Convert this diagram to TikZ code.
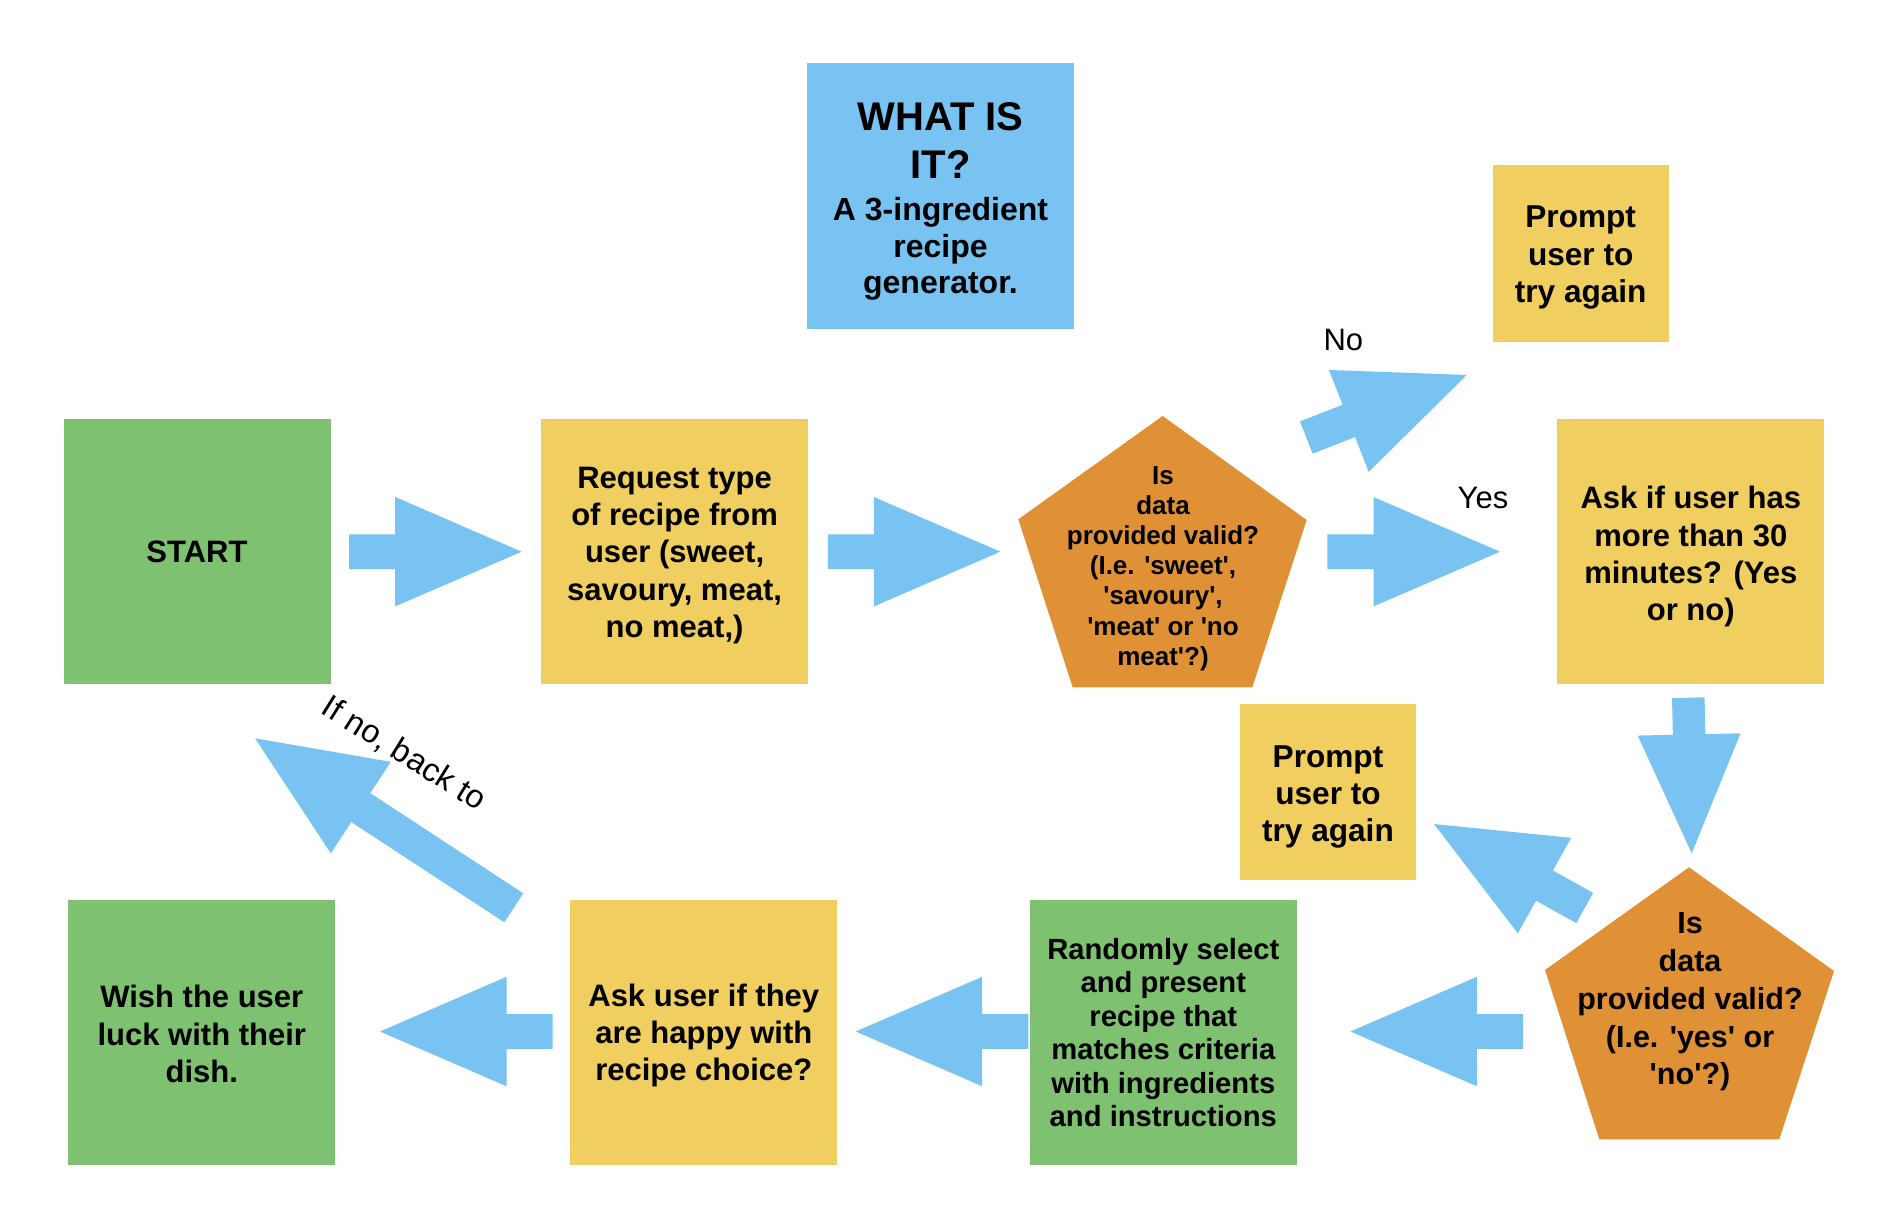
\documentclass[tikz,border=0pt]{standalone}
\usepackage{fontspec}
\setmainfont{Liberation Sans}
\usetikzlibrary{calc}
\definecolor{boxgreen}{HTML}{7EC170}
\definecolor{boxyellow}{HTML}{F0CE5F}
\definecolor{boxblue}{HTML}{78C3F2}
\definecolor{arrowblue}{HTML}{78C3F2}
\definecolor{boxorange}{HTML}{E09136}
\newcommand\sq{\textquotesingle}
\newcommand\blockarrow[3][1]{%
  \pgfmathsetmacro\myarrS{17.3*#1}%
  \pgfmathsetmacro\myarrH{54.7*#1}%
  \pgfmathsetmacro\myarrL{126.5*#1}%
  \coordinate (myarrbase) at ($(#3)!\myarrL pt!(#2)$);
  \fill[arrowblue] ($(#2)!\myarrS pt!90:(#3)$) -- ($(myarrbase)!\myarrS pt!90:(#3)$)
    -- ($(myarrbase)!\myarrH pt!90:(#3)$) -- (#3) -- ($(myarrbase)!\myarrH pt!-90:(#3)$)
    -- ($(myarrbase)!\myarrS pt!-90:(#3)$) -- ($(#2)!\myarrS pt!-90:(#3)$) -- cycle;
}
\tikzset{
  bigbox/.style={minimum width=267pt, minimum height=265pt, inner sep=0pt},
  smallbox/.style={minimum width=176pt, minimum height=176pt, inner sep=0pt, fill=boxyellow},
  boxtext/.style={inner sep=0pt, align=center, font=\bfseries\fontsize{31}{37.3}\selectfont},
  smalltext/.style={inner sep=0pt, align=center, font=\bfseries\fontsize{31.6}{37.3}\selectfont},
  penttext/.style={inner sep=0pt, align=center},
  lbl/.style={inner sep=0pt, font=\fontsize{31}{36}\selectfont},
}
\begin{document}
\begin{tikzpicture}[x=1pt,y=-1pt]
\useasboundingbox (0,0) rectangle (1904,1228);
\fill[white] (0,0) rectangle (1904,1228);

% boxes
\node[bigbox, fill=boxblue] (title) at (940.5,196) {};
\node[inner sep=0pt, align=center, font=\bfseries\fontsize{40}{48}\selectfont] (title-text)
  at ([yshift=-5.8pt]title.center)
  {WHAT IS\\IT?\\[-6.6pt]\fontsize{32}{36.7}\selectfont A 3-ingredient\\[-11.3pt]%
   \fontsize{32}{36.7}\selectfont recipe\\[-11.3pt]\fontsize{32}{36.7}\selectfont generator.};
\node[smallbox] (prompt1) at (1580.7,253.5) {};
\node[smalltext] (prompt1-text) at ([yshift=-4pt]prompt1.center) {Prompt\\user to\\try again};
\node[bigbox, fill=boxgreen] (start) at (197,551.8) {};
\node[boxtext] (start-text) at (start.center) {START};
\node[bigbox, fill=boxyellow] (request) at (674.6,551.8) {};
\node[boxtext] (request-text) at ([yshift=-3.5pt]request.center)
  {Request type\\of recipe from\\user (sweet,\\savoury, meat,\\no meat,)};
\node[bigbox, fill=boxyellow] (ask30) at (1690.8,551.8) {};
\node[boxtext] (ask30-text) at ([yshift=-5pt]ask30.center)
  {Ask if user has\\more than 30\\minutes? (Yes\\or no)};
\node[smallbox] (prompt2) at (1328,792) {};
\node[smalltext] (prompt2-text) at ([yshift=-5pt]prompt2.center) {Prompt\\user to\\try again};
\node[bigbox, fill=boxgreen] (wish) at (201.8,1032.6) {};
\node[boxtext] (wish-text) at ([yshift=-1.5pt]wish.center) {Wish the user\\luck with their\\dish.};
\node[bigbox, fill=boxyellow] (happy) at (703.8,1032.6) {};
\node[boxtext] (happy-text) at ([yshift=-3pt]happy.center) {Ask user if they\\are happy with\\recipe choice?};
\node[bigbox, fill=boxgreen] (random) at (1163.3,1032.6) {};
\node[boxtext, font=\bfseries\fontsize{29.2}{33.4}\selectfont] (random-text) at (random.center)
  {Randomly select\\and present\\recipe that\\matches criteria\\with ingredients\\and instructions};

% pentagons
\fill[boxorange] (1162.7,416) -- (1306.7,520) -- (1252.3,687.3) -- (1072.7,687.3) -- (1018.3,519.3) -- cycle;
\node[penttext, font=\bfseries\fontsize{26}{30.1}\selectfont] (valid1) at (1163,568.6)
  {Is\\data\\provided valid?\\(I.e. \sq sweet\sq,\\\sq savoury\sq,\\\sq meat\sq\ or \sq no\\meat\sq?)};
\fill[boxorange] (1689,867.3) -- (1834,971) -- (1779.3,1139.3) -- (1599.3,1139.3) -- (1545,970) -- cycle;
\node[penttext, font=\bfseries\fontsize{30.5}{37.8}\selectfont] (valid2) at (1690,1002)
  {Is\\data\\provided valid?\\(I.e. \sq yes\sq\ or\\\sq no\sq?)};

% arrow end points
\coordinate (a1s) at (349,551.7);    \coordinate (a1e) at (521.7,551.7);
\coordinate (a2s) at (827.8,551.7);  \coordinate (a2e) at (1000.4,551.7);
\coordinate (a3s) at (1327.3,551.7); \coordinate (a3e) at (1500,551.7);
\coordinate (a4s) at (1306.3,437.5); \coordinate (a4e) at (1466.7,375);
\coordinate (a5s) at (1688.3,697.7); \coordinate (a5e) at (1691.7,853.3);
\coordinate (a6s) at (1584.7,908);   \coordinate (a6e) at (1434,824);
\coordinate (a7s) at (1523,1031.5);  \coordinate (a7e) at (1350.4,1031.5);
\coordinate (a8s) at (1028.3,1031.5);\coordinate (a8e) at (855.7,1031.5);
\coordinate (a9s) at (552.7,1031.5); \coordinate (a9e) at (380,1031.5);
\coordinate (a10s) at (513.8,907.8); \coordinate (a10e) at (255,738.3);

\blockarrow{a1s}{a1e}
\blockarrow{a2s}{a2e}
\blockarrow{a3s}{a3e}
\blockarrow{a4s}{a4e}
\blockarrow[0.94]{a5s}{a5e}
\blockarrow{a6s}{a6e}
\blockarrow{a7s}{a7e}
\blockarrow{a8s}{a8e}
\blockarrow{a9s}{a9e}
\blockarrow{a10s}{a10e}

% labels
\node[lbl] (nolbl) at (1343.3,340) {No};
\node[lbl] (yeslbl) at (1483,498.4) {Yes};
\node[lbl, font=\fontsize{32.5}{36}\selectfont, rotate=-32] (backlbl) at (404,754) {If no, back to};
\end{tikzpicture}
\end{document}
